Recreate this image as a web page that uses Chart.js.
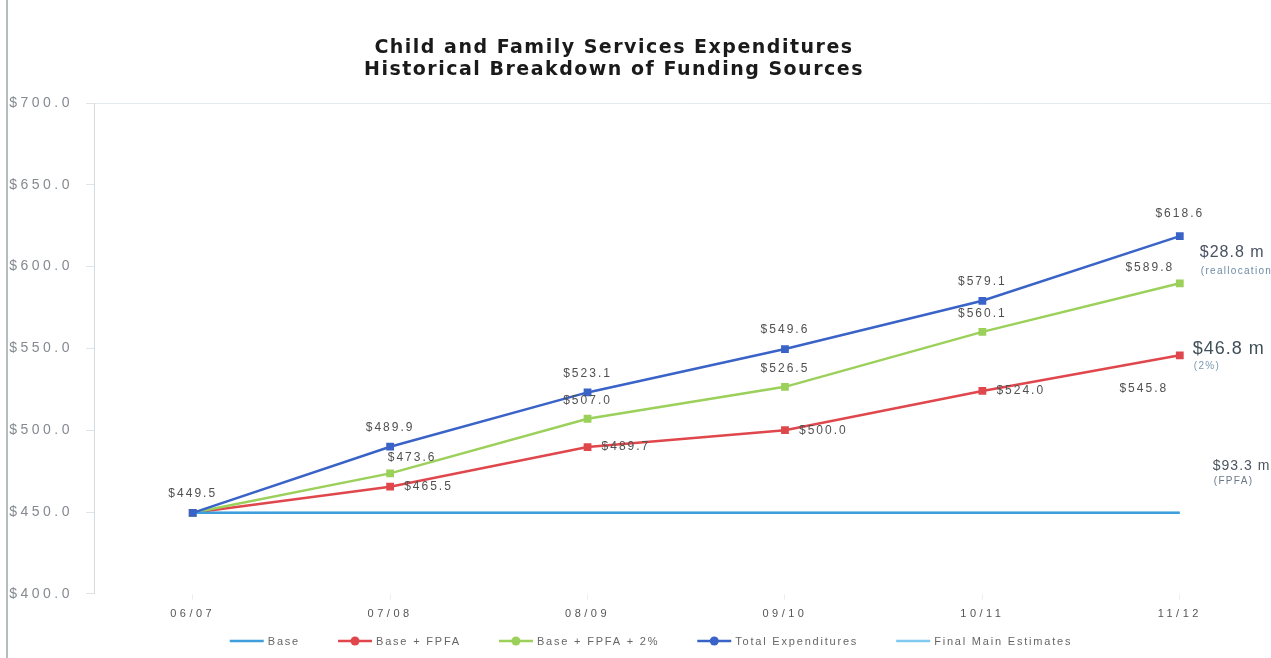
<!DOCTYPE html>
<html><head><meta charset="utf-8">
<script src="https://cdn.jsdelivr.net/npm/chart.js@4.4.1/dist/chart.umd.min.js"></script>
<style>
html,body{margin:0;padding:0;overflow:hidden;background:#fff;width:1271px;height:658px}
#wrap{position:absolute;left:0;top:0;width:1284px;height:658px}
#frame{position:absolute;left:6px;top:0;width:2px;height:658px;background:#b4bcbc}
#title{position:absolute;left:314px;top:35px;width:600px;text-align:center;font:bold 19px "DejaVu Sans",sans-serif;line-height:22px;color:#1a1a1a;letter-spacing:1.5px;white-space:nowrap}
</style></head><body>
<div id="wrap"><canvas id="c"></canvas></div>
<div id="frame"></div>
<div id="title">Child and Family Services Expenditures<br>Historical Breakdown of Funding Sources</div>
<script>
// ---- data ----
const categories = ['06/07', '07/08', '08/09', '09/10', '10/11', '11/12'];
const baseValues = [449.5, 449.5, 449.5, 449.5, 449.5, 449.5];
const baseFpfaValues = [449.5, 465.5, 489.7, 500.0, 524.0, 545.8];
const baseFpfa2Values = [449.5, 473.6, 507.0, 526.5, 560.1, 589.8];
const totalExpValues = [449.5, 489.9, 523.1, 549.6, 579.1, 618.6];
const finalMainValues = [449.5, 449.5, 449.5, 449.5, 449.5, 449.5];
const yTickValues = [400, 450, 500, 550, 600, 650, 700];
const noteTexts = ['$28.8 m', '$46.8 m', '$93.3 m'];
const noteSubTexts = ['(reallocation)', '(2%)', '(FPFA)'];
const noteAnchorValues = [608.5, 549.5, 478];

// ---- styles ----
const font = '"Liberation Sans", Arial, sans-serif';
const noteStyles = [
  {dx: 20, size: 16, color: '#4a5262', subColor: '#6d8aa5', subDy: 19},
  {dx: 13, size: 18, color: '#3f5058', subColor: '#7a9ab0', subDy: 17},
  {dx: 33, size: 14, color: '#4a5560', subColor: '#6a7a8a', subDy: 15}
];
const legendStyle = {centerX: 651, y: 641, line: 34, gap: 4, itemGap: 38, size: 11, spacing: '1.8px', color: '#666'};

const valueLabels = {
  id: 'valueLabels',
  afterDatasetsDraw(chart) {
    const ctx = chart.ctx;
    chart.data.datasets.forEach((ds, i) => {
      const cfg = ds.valueLabel;
      if (!cfg) return;
      const meta = chart.getDatasetMeta(i);
      if (meta.hidden) return;
      meta.data.forEach((pt, j) => {
        if (cfg.skip && cfg.skip.includes(j)) return;
        const off = (cfg.offsets && cfg.offsets[j]) || cfg.offset;
        ctx.save();
        ctx.letterSpacing = '2px';
        ctx.font = '12px ' + font;
        ctx.fillStyle = cfg.color || '#505050';
        ctx.textAlign = off.align || 'center';
        ctx.textBaseline = 'middle';
        ctx.fillText('$' + ds.data[j].toFixed(1), pt.x + off.dx, pt.y + off.dy);
        ctx.restore();
      });
    });
  }
};

const sideNotes = {
  id: 'sideNotes',
  afterDatasetsDraw(chart) {
    const ctx = chart.ctx;
    const xs = chart.scales.x, ys = chart.scales.y;
    const lastX = xs.getPixelForValue(categories.length - 1);
    noteTexts.forEach((t, i) => {
      const st = noteStyles[i];
      const x = lastX + st.dx;
      const y = ys.getPixelForValue(noteAnchorValues[i]);
      ctx.save();
      ctx.letterSpacing = '1px';
      ctx.textAlign = 'left';
      ctx.textBaseline = 'middle';
      ctx.font = st.size + 'px ' + font;
      ctx.fillStyle = st.color;
      ctx.fillText(t, x, y);
      ctx.letterSpacing = '1.3px';
      ctx.font = '10px ' + font;
      ctx.fillStyle = st.subColor;
      ctx.fillText(noteSubTexts[i], x + 1, y + st.subDy);
      ctx.restore();
    });
  }
};

const customLegend = {
  id: 'customLegend',
  afterDraw(chart) {
    const ctx = chart.ctx, st = legendStyle;
    ctx.save();
    ctx.letterSpacing = st.spacing;
    ctx.font = st.size + 'px ' + font;
    const items = chart.data.datasets.map(ds => ({
      label: ds.label, color: ds.borderColor, marker: ds.pointRadius > 0,
      w: st.line + st.gap + ctx.measureText(ds.label).width
    }));
    const total = items.reduce((a, b) => a + b.w, 0) + st.itemGap * (items.length - 1);
    let x = st.centerX - total / 2;
    items.forEach(it => {
      ctx.strokeStyle = it.color;
      ctx.lineWidth = 2.5;
      ctx.beginPath();
      ctx.moveTo(x, st.y);
      ctx.lineTo(x + st.line, st.y);
      ctx.stroke();
      if (it.marker) {
        ctx.fillStyle = it.color;
        ctx.beginPath();
        ctx.arc(x + st.line / 2, st.y, 4.5, 0, Math.PI * 2);
        ctx.fill();
      }
      ctx.fillStyle = st.color;
      ctx.textAlign = 'left';
      ctx.textBaseline = 'middle';
      ctx.fillText(it.label, x + st.line + st.gap, st.y + 1);
      x += it.w + st.itemGap;
    });
    ctx.restore();
  }
};

const spacing = {
  id: 'spacing',
  beforeUpdate(c) { c.ctx.letterSpacing = '3.5px'; },
  beforeDraw(c) { c.ctx.letterSpacing = '3.5px'; },
  afterDatasetsDraw(c) { c.ctx.letterSpacing = '1.5px'; },
  afterDraw(c) { c.ctx.letterSpacing = '0px'; }
};

new Chart(document.getElementById('c'), {
  type: 'line',
  data: {
    labels: categories,
    datasets: [
      {label: 'Base', data: baseValues, borderColor: '#3f9fdc', backgroundColor: '#3f9fdc',
       borderWidth: 2.5, pointRadius: 0, order: 1},
      {label: 'Base + FPFA', data: baseFpfaValues, borderColor: '#e0474c', backgroundColor: '#e0474c',
       borderWidth: 2.5, pointStyle: 'rect', pointRadius: 5.5, pointBorderWidth: 0, order: 3,
       valueLabel: {skip: [0], offset: {dx: 14, dy: 0, align: 'left'},
                    offsets: {5: {dx: -36, dy: 33, align: 'center'}}}},
      {label: 'Base + FPFA + 2%', data: baseFpfa2Values, borderColor: '#9bd05a', backgroundColor: '#9bd05a',
       borderWidth: 2.5, pointStyle: 'rect', pointRadius: 5.5, pointBorderWidth: 0, order: 2,
       valueLabel: {skip: [0], offset: {dx: 0, dy: -18},
                    offsets: {1: {dx: 22, dy: -16}, 5: {dx: -30, dy: -16}}}},
      {label: 'Total Expenditures', data: totalExpValues, borderColor: '#3a63c8', backgroundColor: '#3a63c8',
       borderWidth: 2.5, pointStyle: 'rect', pointRadius: 5.5, pointBorderWidth: 0, order: 0,
       valueLabel: {offset: {dx: 0, dy: -19}, offsets: {5: {dx: 0, dy: -22}}}},
      {label: 'Final Main Estimates', data: finalMainValues, borderColor: '#7fcaee', backgroundColor: '#7fcaee',
       borderWidth: 2, pointRadius: 0, order: 5}
    ]
  },
  options: {
    responsive: true,
    maintainAspectRatio: false,
    animation: false,
    layout: {padding: {top: 103, left: 0, right: 0, bottom: 29}},
    plugins: {
      title: {display: false},
      tooltip: {enabled: false},
      legend: {display: false}
    },
    scales: {
      x: {
        z: 1,
        offset: true,
        grid: {drawOnChartArea: false, tickColor: '#eceff1', tickLength: 6},
        border: {display: false},
        ticks: {color: '#555', font: {family: font, size: 11}, padding: 8}
      },
      y: {
        min: 400, max: 700,
        afterBuildTicks(s) { s.ticks = yTickValues.map(v => ({value: v})); },
        ticks: {callback: v => '$' + Number(v).toFixed(1), color: '#858a90', font: {family: font, size: 14}, padding: 13},
        grid: {color: c => (c.tick && c.tick.value === 700) ? '#e4ebef' : 'rgba(0,0,0,0)', tickColor: '#dfe4e7', tickLength: 8},
        border: {color: '#d5dce0', width: 1},
        afterFit(s) { s.width = 94; }
      }
    }
  },
  plugins: [spacing, valueLabels, sideNotes, customLegend]
});
</script>
</body></html>
